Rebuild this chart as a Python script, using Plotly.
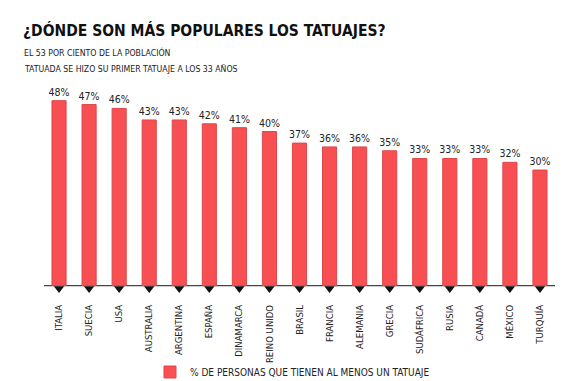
import plotly.graph_objects as go

countries = ["ITALIA", "SUECIA", "USA", "AUSTRALIA", "ARGENTINA", "ESPAÑA", "DINAMARCA",
             "REINO UNIDO", "BRASIL", "FRANCIA", "ALEMANIA", "GRECIA", "SUDÁFRICA",
             "RUSIA", "CANADÁ", "MÉXICO", "TURQUÍA"]
values = [48, 47, 46, 43, 43, 42, 41, 40, 37, 36, 36, 35, 33, 33, 33, 32, 30]
value_labels = [f"{v}%" for v in values]
series_name = "% DE PERSONAS QUE TIENEN AL MENOS UN TATUAJE"
title_text = "¿DÓNDE SON MÁS POPULARES LOS TATUAJES?"
subtitle_lines = ["EL 53 POR CIENTO DE LA POBLACIÓN",
                  "TATUADA SE HIZO SU PRIMER TATUAJE A LOS 33 AÑOS"]

NARROW = "DejaVu Sans Condensed, Liberation Sans Narrow, Roboto, sans-serif"
RED = "#F84F52"

W, H = 581, 381
ml, mr, mt, mb = 44, 26, 93, 90
pw, ph = W - ml - mr, H - mt - mb
Y0, Y1 = -1.4, 50

def px_x(x):
    return (x - ml) / pw

def px_y(y):
    return (H - mb - y) / ph

fig = go.Figure()
fig.add_trace(go.Bar(
    x=countries, y=values, name=series_name,
    marker=dict(color=RED, line=dict(color="#E0474A", width=1)),
    width=0.47,
    text=value_labels, textposition="outside", constraintext="none",
    textfont=dict(family=NARROW, size=10.5, color="#222"),
    cliponaxis=False, showlegend=True, hoverinfo="x+y",
))
fig.add_trace(go.Scatter(
    x=countries, y=[-0.75] * len(countries), mode="markers",
    marker=dict(symbol="triangle-down", size=9, color="#111", line=dict(width=0)),
    cliponaxis=False, showlegend=False, hoverinfo="skip",
))

fig.update_layout(
    width=W, height=H,
    margin=dict(l=ml, r=mr, t=mt, b=mb, autoexpand=False),
    plot_bgcolor="white", paper_bgcolor="white",
    xaxis=dict(
        range=[-0.5, len(countries) - 0.5], automargin=False,
        tickangle=-90, showgrid=False, zeroline=False,
        showline=False, ticks="",
        tickfont=dict(family=NARROW, size=9.5, color="#222"),
        ticklabelstandoff=11,
    ),
    yaxis=dict(range=[Y0, Y1], visible=False, showgrid=False, zeroline=False,
               automargin=False),
    shapes=[dict(type="line", xref="paper", yref="y", x0=0, x1=1, y0=0, y1=0,
                 line=dict(color="#444", width=1.3), layer="below")],
    legend=dict(
        orientation="h", x=px_x(150), y=px_y(372), xanchor="left", yanchor="middle",
        font=dict(family=NARROW, size=10, color="#222"),
        bgcolor="rgba(0,0,0,0)",
    ),
    annotations=[
        dict(text=f"<b>{title_text}</b>", xref="paper", yref="paper",
             x=px_x(21), y=px_y(30), xanchor="left", yanchor="middle",
             showarrow=False, font=dict(family=NARROW, size=15.5, color="#111")),
        dict(text=subtitle_lines[0], xref="paper", yref="paper",
             x=px_x(22), y=px_y(52), xanchor="left", yanchor="middle",
             showarrow=False, font=dict(family=NARROW, size=8.7, color="#222")),
        dict(text=subtitle_lines[1], xref="paper", yref="paper",
             x=px_x(22), y=px_y(69), xanchor="left", yanchor="middle",
             showarrow=False, font=dict(family=NARROW, size=8.7, color="#222")),
    ],
)

fig.write_html("out.html", config={"displayModeBar": False},
               post_script="document.body.style.margin='0';")
